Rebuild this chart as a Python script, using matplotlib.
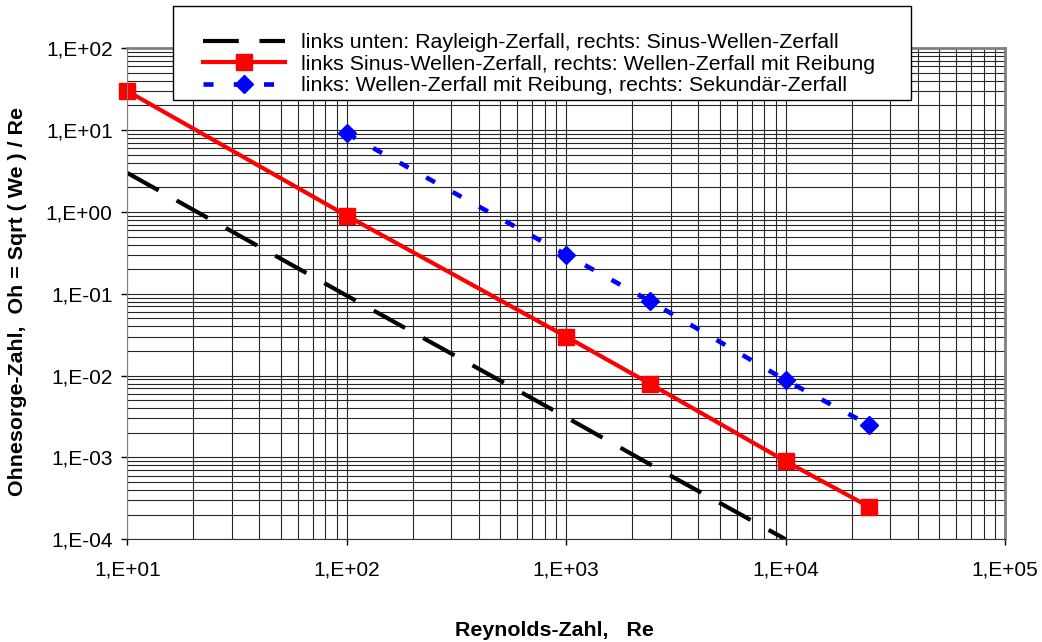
import matplotlib
matplotlib.use('Agg')
import matplotlib.pyplot as plt
import numpy as np
from matplotlib.patches import Rectangle
from matplotlib.ticker import LogLocator, FuncFormatter, NullFormatter

# values
re_black = [10, 100, 1000, 2400, 10000]
oh_black = [3.0, 0.095, 0.0031, 0.00083, 0.0001]

re_red = [10, 100, 1000, 2400, 10000, 24000]
oh_red = [30, 0.9, 0.03, 0.008, 0.0009, 0.00025]

re_blue = [100, 1000, 2400, 10000, 24000]
oh_blue = [9.1, 0.3, 0.082, 0.0088, 0.0025]

labels = ["links unten: Rayleigh-Zerfall, rechts: Sinus-Wellen-Zerfall",
          "links Sinus-Wellen-Zerfall, rechts: Wellen-Zerfall mit Reibung",
          "links: Wellen-Zerfall mit Reibung, rechts: Sekundär-Zerfall"]

plt.rcParams['font.family'] = ['Liberation Sans', 'DejaVu Sans']

W, H = 1042, 642
fig = plt.figure(figsize=(W/100, H/100), dpi=100)
ax = fig.add_axes([127.3/W, 1-539.3/H, (1005-127.3)/W, (539.3-48.3)/H])

l1, = ax.plot(re_black, oh_black, color='black', lw=3, ls=(0, (8.6, 4.95)))
l2, = ax.plot(re_red, oh_red, color='#ff0000', lw=3, marker='s', ms=11, clip_on=False)
l3, = ax.plot(re_blue, oh_blue, color='#0000ff', lw=3.3, ls=(0, (2.2, 4.4)),
              marker='D', ms=9, clip_on=False)

ax.set_xscale('log')
ax.set_yscale('log')
ax.set_xlim(1e1, 1e5)
ax.set_ylim(1e-4, 1e2)

ax.xaxis.set_major_locator(LogLocator(base=10, numticks=10))
ax.yaxis.set_major_locator(LogLocator(base=10, numticks=10))
ax.xaxis.set_minor_locator(LogLocator(base=10, subs=np.arange(2, 10), numticks=50))
ax.yaxis.set_minor_locator(LogLocator(base=10, subs=np.arange(2, 10), numticks=50))
fmt = FuncFormatter(lambda v, p: "1,E%+03d" % int(round(np.log10(v))))
ax.xaxis.set_major_formatter(fmt)
ax.yaxis.set_major_formatter(fmt)
ax.xaxis.set_minor_formatter(NullFormatter())
ax.yaxis.set_minor_formatter(NullFormatter())

ax.grid(which='both', color='#262626', lw=0.8)
ax.set_axisbelow(True)
ax.tick_params(which='major', direction='out', length=4.5, width=1, labelsize=15, pad=6)
ax.tick_params(axis='x', which='major', pad=11)
ax.tick_params(which='minor', length=0)

for s in ['top', 'right']:
    ax.spines[s].set_color('#808080')
    ax.spines[s].set_linewidth(2)
ax.spines['left'].set_color('#808080')
ax.spines['bottom'].set_color('#333333')

fig.text(554/W, 1-630/H, "Reynolds-Zahl,   Re", fontsize=15.4, fontweight='bold',
         ha='center', va='center')
fig.text(18/W, 1-302/H, "Ohnesorge-Zahl,  Oh = Sqrt ( We ) / Re", fontsize=15.4,
         fontweight='bold', rotation=90, ha='center', va='center')

# legend box (extends above the plot area, white background)
box = Rectangle((173/W, 1-100/H), (911-173)/W, 94/H, transform=fig.transFigure,
                facecolor='white', edgecolor='black', lw=1, zorder=5)
fig.patches.append(box)
leg = fig.legend([l1, l2, l3], labels, loc='upper left', bbox_to_anchor=(203/W, 1-33/H),
                 frameon=False, fontsize=15.4, handlelength=3.83, handletextpad=0.75,
                 labelspacing=0.12, borderpad=0, borderaxespad=0)
leg.set_zorder(6)

plt.savefig('out.png', dpi=100)
